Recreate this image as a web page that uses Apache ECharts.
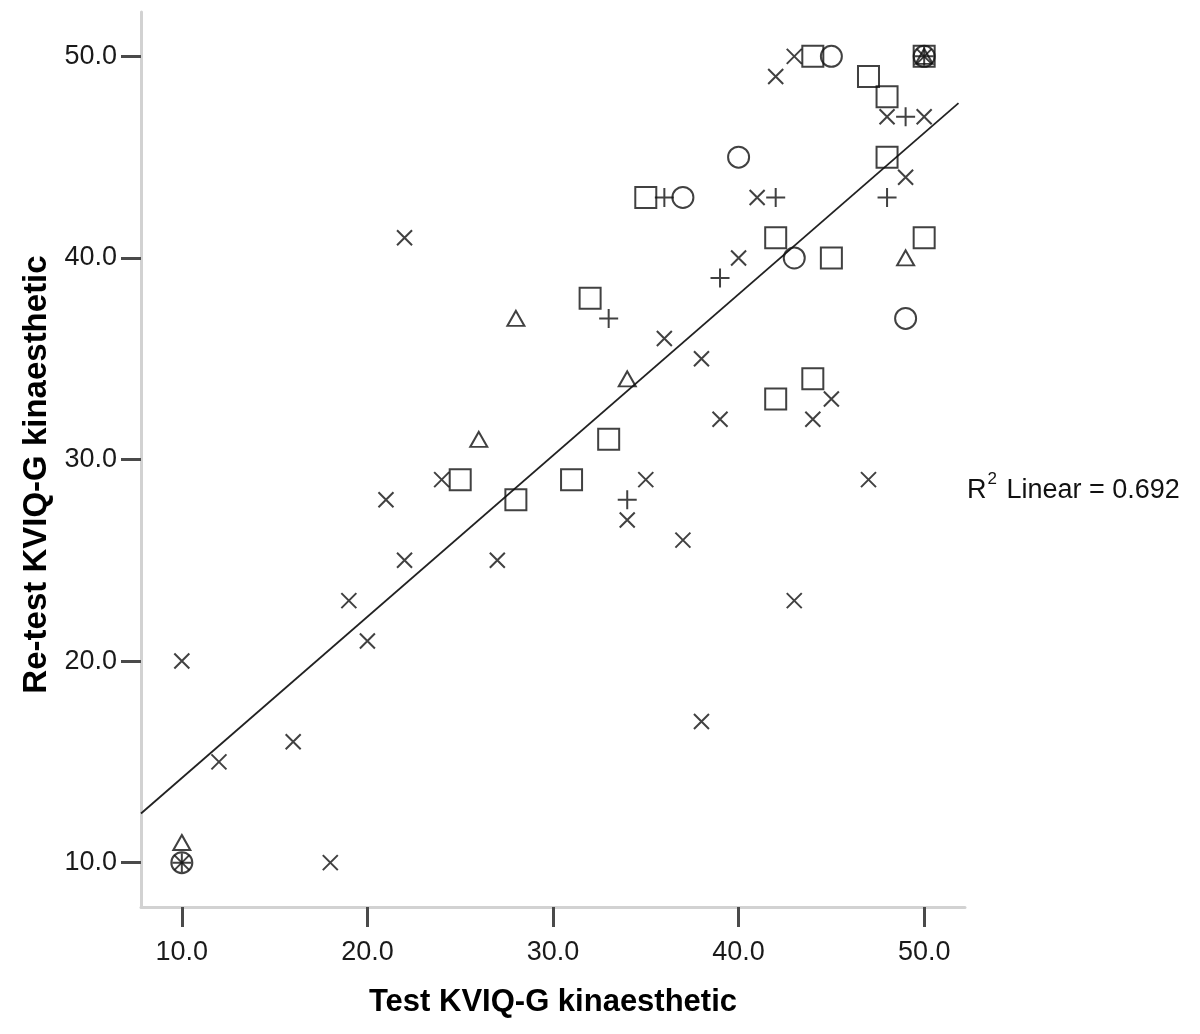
<!DOCTYPE html>
<html>
<head>
<meta charset="utf-8">
<script src="https://cdn.jsdelivr.net/npm/echarts@6/dist/echarts.min.js"></script>
<style>
html,body{margin:0;padding:0;background:#fff;}
#chart{width:1200px;height:1034px;}
</style>
</head>
<body>
<div id="chart"></div>
<script>
// ---- Data (Test vs Re-test KVIQ-G kinaesthetic) ----
const crossX = [10,12,16,18,19,20,21,22,22,24,27,34,35,36,37,38,38,39,40,41,42,43,43,44,45,47,48,49,50,10,50];
const crossY = [20,15,16,10,23,21,28,41,25,29,25,27,29,36,26,35,17,32,40,43,49,50,23,32,33,29,47,44,47,10,50];

const plusX = [33,34,36,39,42,48,49,10,50];
const plusY = [37,28,43,39,43,43,47,10,50];

const squareX = [25,28,31,32,33,35,42,42,44,44,45,47,48,48,50,50];
const squareY = [29,28,29,38,31,43,41,33,34,50,40,49,48,45,41,50];

const circleX = [37,40,43,45,49,10,50];
const circleY = [43,45,40,50,37,10,50];

const triangleX = [10,26,28,34,49,50];
const triangleY = [11,31,37,34,40,50];

const xTicks = [10,20,30,40,50];
const yTicks = [10,20,30,40,50];

// Linear fit line
const fitIntercept = 6.2;
const fitSlope = 0.80;
const fitXRange = [7.8, 51.85];
const r2Text = '0.692';

const axisMin = 7.8, axisMax = 52.2;

function pairs(xs, ys){ return xs.map((x,i)=>[x, ys[i]]); }

const chart = echarts.init(document.getElementById('chart'), null, {renderer:'canvas'});
const FONT = 'Liberation Sans, Arial, sans-serif';
const markStroke = '#111';

function axis(name, ticks, isX){
  return {
    type:'value',
    min: axisMin, max: axisMax,
    name: name,
    nameLocation:'middle',
    nameGap: isX ? 80 : 88,
    nameTextStyle: isX
      ? {fontFamily:FONT, fontWeight:'bold', fontSize:31, color:'#000'}
      : {fontFamily:FONT, fontWeight:'bold', fontSize:33, color:'#000', padding:[0,30,0,0]},
    axisLine:{show:true, onZero:false, lineStyle:{color:'#d2d2d2', width:3}},
    axisTick:{show:true, length:20, inside:false, customValues:ticks, lineStyle:{color:'#4a4a4a', width:3}},
    axisLabel:{show:true, customValues:ticks, margin: isX ? 32 : 24, fontFamily:FONT, fontSize:27, color:'#1a1a1a',
               formatter:(v)=>Number(v).toFixed(1)},
    splitLine:{show:false}
  };
}

const hollow = {color:'transparent', borderColor:markStroke, borderWidth:2};
const stroked = {color:'transparent', borderColor:markStroke, borderWidth:2};

const option = {
  animation:false,
  backgroundColor:'#fff',
  grid:{left:141, right:235, top:12, bottom:127, containLabel:false},
  xAxis: axis('Test KVIQ-G kinaesthetic', xTicks, true),
  yAxis: axis('Re-test KVIQ-G kinaesthetic', yTicks, false),
  series:[
    {
      type:'line', name:'fit', silent:true, symbol:'none',
      data: fitXRange.map(x=>[x, fitIntercept + fitSlope*x]),
      lineStyle:{color:'#222', width:1.8}, z:1
    },
    {
      type:'scatter', name:'square', symbol:'rect', symbolSize:21,
      data: pairs(squareX, squareY), itemStyle: hollow, z:3
    },
    {
      type:'scatter', name:'circle', symbol:'circle', symbolSize:21,
      data: pairs(circleX, circleY), itemStyle: hollow, z:3
    },
    {
      type:'scatter', name:'triangle', symbol:'triangle', symbolSize:[17,15],
      data: pairs(triangleX, triangleY), itemStyle: hollow, z:3
    },
    {
      type:'scatter', name:'cross', symbol:'path://M0,0L10,10M10,0L0,10', symbolSize:15,
      data: pairs(crossX, crossY), itemStyle: stroked, z:4
    },
    {
      type:'scatter', name:'plus', symbol:'path://M5,0L5,10M0,5L10,5', symbolSize:19,
      data: pairs(plusX, plusY), itemStyle: stroked, z:4
    }
  ],
  graphic:[
    {
      type:'text', left:967, top:471,
      style:{
        text:'{a|R}{s|2}{a| Linear = ' + r2Text + '}',
        rich:{
          a:{fontFamily:FONT, fontSize:27, fill:'#111', verticalAlign:'bottom', padding:[6,0,0,0]},
          s:{fontFamily:FONT, fontSize:17, fill:'#111', verticalAlign:'top', padding:[0,2,0,1]}
        }
      }
    }
  ]
};
chart.setOption(option);
</script>
</body>
</html>
